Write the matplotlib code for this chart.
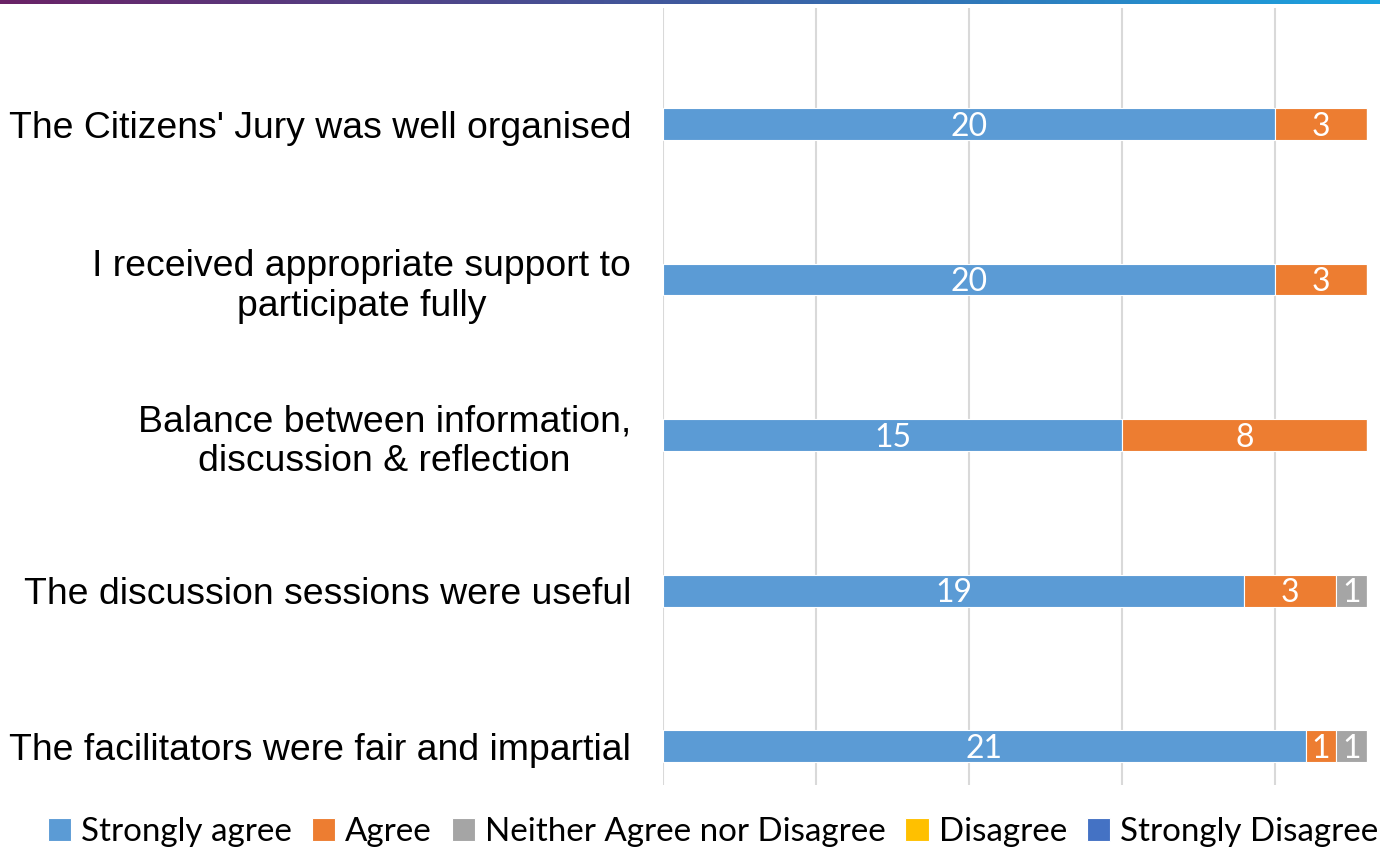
import matplotlib.pyplot as plt
import numpy as np
from matplotlib.colors import LinearSegmentedColormap

# survey statements (top to bottom)
statements = [
    "The Citizens' Jury was well organised",
    "I received appropriate support to\nparticipate fully",
    "Balance between information,\ndiscussion & reflection",
    "The discussion sessions were useful",
    "The facilitators were fair and impartial",
]

series_names = ["Strongly agree", "Agree", "Neither Agree nor Disagree",
                "Disagree", "Strongly Disagree"]
strongly_agree = [20, 20, 15, 19, 21]
agree = [3, 3, 8, 3, 1]
neither = [0, 0, 0, 1, 1]
disagree = [0, 0, 0, 0, 0]
strongly_disagree = [0, 0, 0, 0, 0]
colors = ["#5B9BD5", "#ED7D31", "#A5A5A5", "#FFC000", "#4472C4"]

fig = plt.figure(figsize=(13.8, 8.5), dpi=100)

# thin gradient strip along the top edge
strip = fig.add_axes([0, 1 - 4 / 850, 1, 4 / 850])
grad = LinearSegmentedColormap.from_list("g", ["#6A2266", "#3F5A9E", "#1BA3E0"])
strip.imshow(np.linspace(0, 1, 256)[None, :], aspect="auto", cmap=grad)
strip.axis("off")

ax = fig.add_axes([663 / 1380, 1 - 785 / 850, 1 - 663 / 1380, 777 / 850])

y = np.arange(len(statements))
left = np.zeros(len(statements))
all_series = [strongly_agree, agree, neither, disagree, strongly_disagree]
for name, vals, col in zip(series_names, all_series, colors):
    vals = np.array(vals, dtype=float)
    ax.barh(y, vals, left=left, height=0.205, color=col, label=name,
            edgecolor="white", linewidth=0.8, zorder=3)
    for yi, (l, v) in enumerate(zip(left, vals)):
        if v > 0:
            ax.text(l + v / 2, yi + 0.018, str(int(v)), ha="center", va="center",
                    color="white", fontsize=23, family="Lato", zorder=4)
    left += vals

ax.set_ylim(4.25, -0.746)
ax.set_xlim(0, 717 / 30.6)
ax.set_xticks([0, 5, 10, 15, 20])
ax.xaxis.grid(True, color="#D9D9D9", linewidth=1.5, zorder=0)
ax.tick_params(axis="x", length=0, labelbottom=False)
ax.tick_params(axis="y", length=0, pad=23)
ax.set_yticks(y)
ax.set_yticklabels(statements, fontsize=26.9, family="Liberation Sans",
                   multialignment="center", linespacing=1.2)
for s in ax.spines.values():
    s.set_visible(False)

fig.legend(loc="center", bbox_to_anchor=(713 / 1380, 1 - 832 / 850), ncol=5,
           frameon=False, prop={"family": "Lato", "size": 23.9},
           handlelength=0.7, handleheight=0.7, handletextpad=0.3,
           columnspacing=0.6, borderaxespad=0)

fig.savefig("out.png", dpi=100)
